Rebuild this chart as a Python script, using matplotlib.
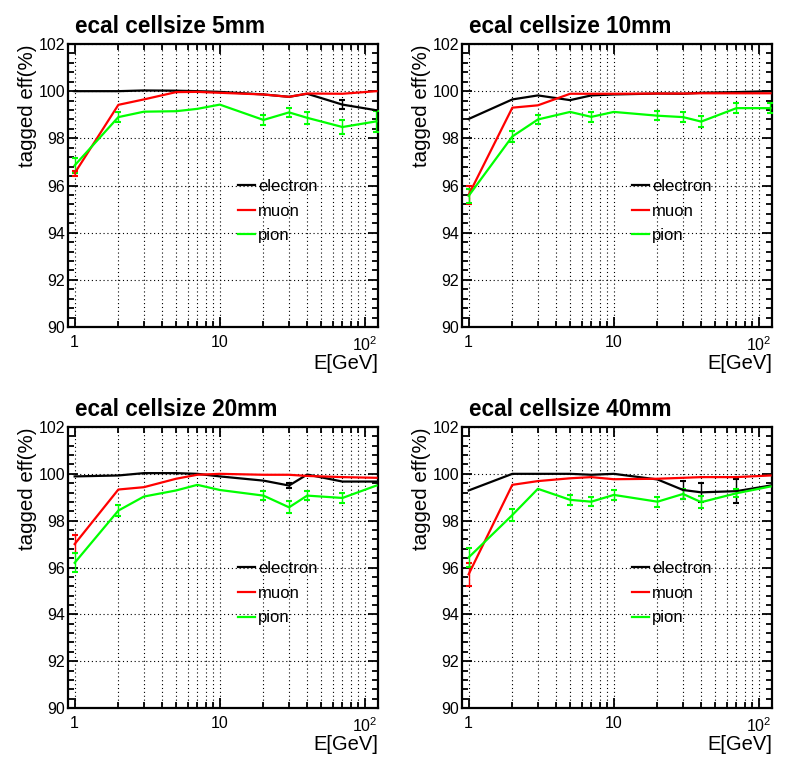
import matplotlib
matplotlib.use("Agg")
import matplotlib.pyplot as plt
import numpy as np
from matplotlib.ticker import FixedLocator, FixedFormatter, NullFormatter

plt.rcParams['font.family'] = ['Liberation Sans', 'DejaVu Sans']
plt.rcParams['mathtext.fontset'] = 'custom'
plt.rcParams['mathtext.rm'] = 'Liberation Sans'

# ---------------- data ----------------
energy = [1, 2, 3, 5, 7, 10, 20, 30, 40, 70, 120]

titles = ["ecal cellsize 5mm", "ecal cellsize 10mm", "ecal cellsize 20mm", "ecal cellsize 40mm"]
particles = ["electron", "muon", "pion"]

eff_e_5mm  = [100.0, 100.0, 100.03, 100.02, 100.0, 99.97, 99.86, 99.76, 99.89, 99.43, 99.19]
eff_mu_5mm = [96.52, 99.42, 99.65, 99.96, 99.97, 99.93, 99.86, 99.76, 99.90, 99.89, 100.0]
eff_pi_5mm = [96.85, 98.90, 99.13, 99.15, 99.25, 99.43, 98.78, 99.10, 98.87, 98.48, 98.72]
err_e_5mm  = [0.0, 0.0, 0.0, 0.0, 0.0, 0.0, 0.0, 0.0, 0.0, 0.20, 0.0]
err_mu_5mm = [0.10, 0.0, 0.0, 0.0, 0.0, 0.0, 0.0, 0.0, 0.0, 0.0, 0.0]
err_pi_5mm = [0.30, 0.20, 0.0, 0.0, 0.0, 0.0, 0.20, 0.20, 0.25, 0.30, 0.45]

eff_e_10mm  = [98.82, 99.65, 99.82, 99.62, 99.82, 99.86, 99.90, 99.89, 99.93, 99.96, 100.0]
eff_mu_10mm = [95.60, 99.30, 99.40, 99.89, 99.89, 99.89, 99.90, 99.90, 99.91, 99.91, 99.91]
eff_pi_10mm = [95.56, 98.08, 98.80, 99.12, 98.91, 99.12, 98.96, 98.90, 98.71, 99.28, 99.28]
err_e_10mm  = [0.0, 0.0, 0.0, 0.0, 0.0, 0.0, 0.0, 0.0, 0.0, 0.0, 0.0]
err_mu_10mm = [0.40, 0.0, 0.0, 0.0, 0.0, 0.0, 0.0, 0.0, 0.0, 0.0, 0.0]
err_pi_10mm = [0.30, 0.25, 0.20, 0.0, 0.20, 0.0, 0.20, 0.22, 0.22, 0.20, 0.20]

eff_e_20mm  = [99.89, 99.93, 100.03, 100.03, 100.0, 99.89, 99.71, 99.50, 99.97, 99.67, 99.67]
eff_mu_20mm = [97.00, 99.33, 99.43, 99.79, 99.96, 100.0, 99.96, 99.96, 99.91, 99.86, 99.83]
eff_pi_20mm = [96.20, 98.43, 99.03, 99.29, 99.53, 99.31, 99.07, 98.57, 99.07, 98.97, 99.50]
err_e_20mm  = [0.0, 0.0, 0.0, 0.0, 0.0, 0.0, 0.0, 0.10, 0.0, 0.0, 0.0]
err_mu_20mm = [0.40, 0.0, 0.0, 0.0, 0.0, 0.0, 0.0, 0.0, 0.0, 0.0, 0.0]
err_pi_20mm = [0.40, 0.25, 0.0, 0.0, 0.0, 0.0, 0.20, 0.25, 0.20, 0.20, 0.0]

eff_e_40mm  = [99.29, 100.0, 100.0, 100.0, 99.96, 100.0, 99.76, 99.31, 99.21, 99.26, 99.50]
eff_mu_40mm = [95.71, 99.53, 99.69, 99.81, 99.86, 99.77, 99.79, 99.83, 99.86, 99.86, 99.93]
eff_pi_40mm = [96.43, 98.24, 99.36, 98.89, 98.81, 99.10, 98.81, 99.14, 98.79, 99.17, 99.46]
err_e_40mm  = [0.0, 0.0, 0.0, 0.0, 0.0, 0.0, 0.0, 0.38, 0.40, 0.50, 0.0]
err_mu_40mm = [0.50, 0.0, 0.0, 0.0, 0.0, 0.0, 0.0, 0.0, 0.0, 0.0, 0.0]
err_pi_40mm = [0.40, 0.25, 0.0, 0.20, 0.20, 0.20, 0.22, 0.20, 0.25, 0.18, 0.0]

panels = [
    (eff_e_5mm, eff_mu_5mm, eff_pi_5mm, err_e_5mm, err_mu_5mm, err_pi_5mm),
    (eff_e_10mm, eff_mu_10mm, eff_pi_10mm, err_e_10mm, err_mu_10mm, err_pi_10mm),
    (eff_e_20mm, eff_mu_20mm, eff_pi_20mm, err_e_20mm, err_mu_20mm, err_pi_20mm),
    (eff_e_40mm, eff_mu_40mm, eff_pi_40mm, err_e_40mm, err_mu_40mm, err_pi_40mm),
]

y_ticks = [90, 92, 94, 96, 98, 100, 102]
x_major = [1, 10, 100]
x_major_labels = ['1', '10', r'$\mathregular{10^{2}}$']

colors = ['#000000', '#ff0000', '#00ff00']

# ---------------- figure ----------------
W, H = 788, 764
fig = plt.figure(figsize=(W / 100, H / 100), dpi=100)

# axes frames in pixels: (left, top, right, bottom)
frames = [(68, 44, 378, 327), (462, 44, 772, 327),
          (68, 427, 378, 708), (462, 427, 772, 708)]

x_minor = [m * 10 ** d for d in range(0, 3) for m in range(2, 10) if m * 10 ** d < 130]

for k, (l, t, r, b) in enumerate(frames):
    ax = fig.add_axes([l / W, 1 - b / H, (r - l) / W, (b - t) / H])
    ax.set_xscale('log')
    ax.set_xlim(0.9, 123)
    ax.set_ylim(90, 102)

    vals = panels[k]
    handles = []
    for i in range(3):
        ev = np.array(energy, dtype=float)
        yv = np.array(vals[i], dtype=float)
        er = np.array(vals[i + 3], dtype=float)
        m = er > 0
        if m.any():
            ax.errorbar(ev[m], yv[m], yerr=er[m], fmt='none', ecolor=colors[i],
                        elinewidth=1.0, capsize=2, capthick=1.5, zorder=3)
        h, = ax.plot(energy, vals[i], color=colors[i], lw=1.6, zorder=4,
                     label=particles[i])
        handles.append(h)

    # ticks
    ax.xaxis.set_major_locator(FixedLocator(x_major))
    ax.xaxis.set_major_formatter(FixedFormatter(x_major_labels))
    ax.xaxis.set_minor_locator(FixedLocator(x_minor))
    ax.xaxis.set_minor_formatter(NullFormatter())
    ax.yaxis.set_major_locator(FixedLocator(y_ticks))
    ax.yaxis.set_minor_locator(FixedLocator(list(np.arange(90, 102.01, 0.4))))
    ax.tick_params(which='both', direction='in', top=True, right=True,
                   labelsize=11.5, width=1.3, color='black')
    ax.tick_params(axis='y', which='major', length=7, pad=2)
    ax.tick_params(axis='y', which='minor', length=4)
    ax.tick_params(axis='x', which='major', length=7, pad=6)
    ax.tick_params(axis='x', which='minor', length=4.5)

    # grid
    ax.grid(True, which='major', axis='y', color='black', lw=0.8,
            linestyle=(0, (1, 2.5)))
    ax.grid(True, which='both', axis='x', color='black', lw=0.8,
            linestyle=(0, (1, 2.5)))
    ax.set_axisbelow(True)

    for s in ax.spines.values():
        s.set_linewidth(1.6)

    # labels
    ax.set_xlabel('E[GeV]', fontsize=14.5, ha='right')
    ax.xaxis.set_label_coords(1.0, -0.097)
    ax.xaxis.label.set_verticalalignment('top')
    ax.set_ylabel('tagged eff(%)', fontsize=14.8, ha='right')
    ax.yaxis.set_label_coords(-0.10, 1.0)
    ax.yaxis.label.set_verticalalignment('bottom')

    ax.text(0.023, 1 + 11 / (b - t), titles[k], transform=ax.transAxes,
            fontsize=16.3, fontweight='bold', ha='left', va='baseline')

    ax.legend(handles=handles, loc='upper left', bbox_to_anchor=(0.548, 0.523),
              frameon=False, fontsize=12, handlelength=1.0, handletextpad=0.2,
              labelspacing=0.58, borderpad=0, borderaxespad=0)

fig.savefig('out.png', dpi=100, facecolor='white')
